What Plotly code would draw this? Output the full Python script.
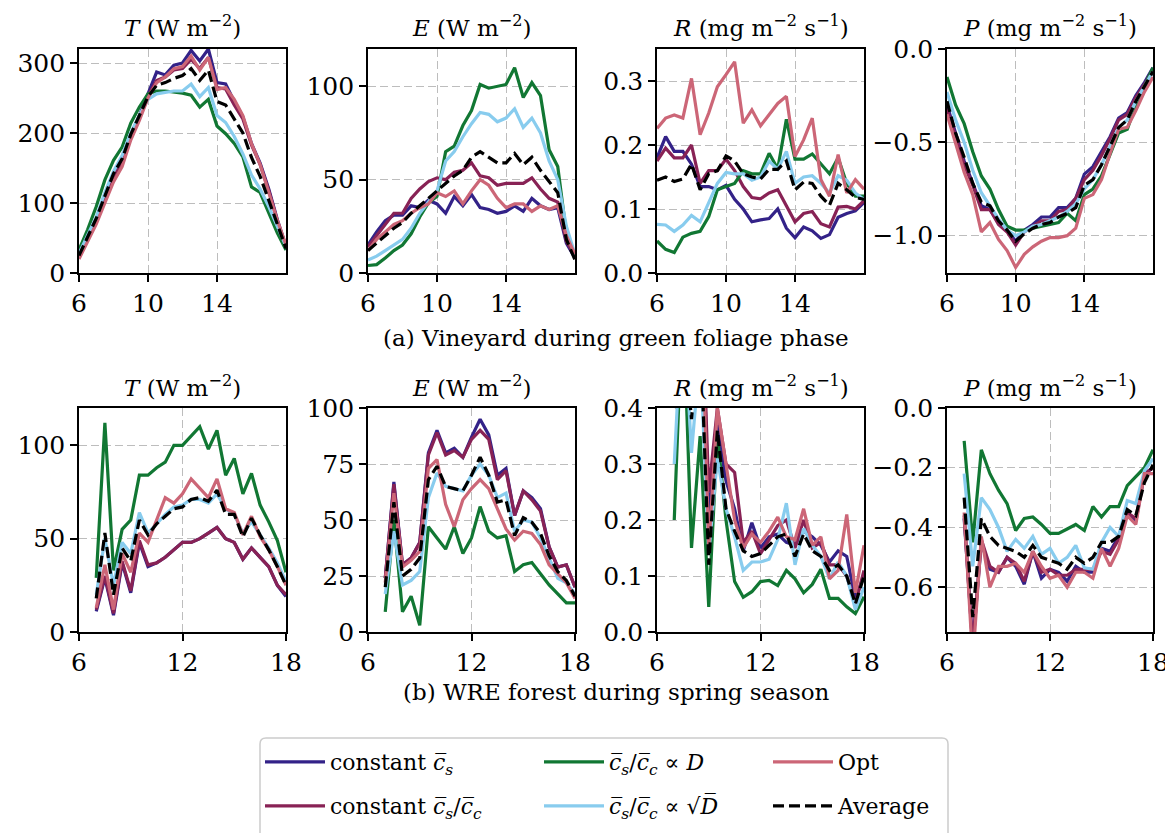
import plotly.graph_objects as go

W, H = 1173, 833
OFF = 8  # the page body margin shifts the figure by this many px

hours_a = [6, 6.5, 7, 7.5, 8, 8.5, 9, 9.5, 10, 10.5, 11, 11.5, 12,
           12.5, 13, 13.5, 14, 14.5, 15, 15.5, 16, 16.5, 17, 17.5, 18]
hours_b = [7, 7.5, 8, 8.5, 9, 9.5, 10, 10.5, 11, 11.5, 12,
           12.5, 13, 13.5, 14, 14.5, 15, 15.5, 16, 16.5, 17, 17.5, 18]

# (a) vineyard - T
T_a_cs = [22, 48, 75, 105, 140, 160, 195, 225, 255, 287, 283, 297, 300, 318, 303, 320, 272, 270, 245, 223, 185, 157, 120, 76, 38]
T_a_cscc = [22, 47, 73, 103, 137, 158, 193, 222, 253, 275, 280, 290, 292, 305, 292, 308, 265, 263, 240, 220, 183, 155, 118, 74, 37]
T_a_D = [33, 62, 95, 133, 161, 180, 214, 237, 256, 260, 260, 259, 257, 254, 237, 248, 210, 199, 185, 166, 123, 115, 85, 57, 33]
T_a_sqrtD = [28, 55, 80, 115, 145, 168, 200, 225, 248, 256, 258, 260, 260, 270, 252, 265, 225, 215, 195, 170, 140, 120, 95, 65, 38]
T_a_opt = [20, 45, 70, 100, 130, 152, 190, 218, 250, 272, 280, 292, 295, 310, 290, 308, 262, 265, 248, 225, 185, 155, 115, 75, 40]
T_a_avg = [25, 52, 78, 110, 142, 163, 198, 225, 252, 268, 272, 278, 282, 292, 275, 290, 245, 240, 220, 200, 165, 138, 104, 68, 35]

# (a) vineyard - E
E_a_cs = [15, 22, 28, 31, 31, 36, 35, 39, 37, 32, 41, 36, 42, 35, 34, 32, 33, 36, 33, 40, 36, 34, 35, 16, 8]
E_a_cscc = [14, 20, 26, 32, 32, 40, 45, 49, 51, 50, 54, 55, 59, 52, 51, 47, 48, 48, 48, 51, 45, 40, 38, 17, 9]
E_a_D = [4, 4.5, 8, 12, 15, 21, 30, 37.5, 41, 65, 68, 79, 87, 101, 99, 100, 101, 110, 94, 102, 95, 66, 57, 21, 9]
E_a_sqrtD = [7, 9, 12, 15, 18, 24, 32, 38, 44, 60, 65, 73, 80, 86, 85, 81, 83, 88, 78, 83, 75, 60, 50, 25, 10]
E_a_opt = [12, 18, 22, 26, 28, 32, 35, 37, 43, 41, 44, 37, 44, 50, 47, 40, 35, 37, 37, 33, 36, 34, 36, 20, 10]
E_a_avg = [12, 16, 20, 24, 27, 32, 36, 40, 44, 48, 52, 55, 62, 65, 62, 59, 59, 64, 58, 62, 55, 49, 43, 18, 7]

# (a) vineyard - R
R_a_cs = [0.18, 0.213, 0.19, 0.19, 0.17, 0.135, 0.135, 0.13, 0.137, 0.115, 0.1, 0.08, 0.083, 0.085, 0.1, 0.07, 0.055, 0.072, 0.066, 0.054, 0.06, 0.087, 0.093, 0.097, 0.11]
R_a_cscc = [0.175, 0.195, 0.18, 0.18, 0.2, 0.14, 0.16, 0.16, 0.178, 0.16, 0.135, 0.118, 0.116, 0.125, 0.13, 0.105, 0.08, 0.093, 0.096, 0.077, 0.072, 0.103, 0.104, 0.1, 0.113]
R_a_D = [0.05, 0.037, 0.032, 0.056, 0.062, 0.065, 0.088, 0.13, 0.135, 0.14, 0.16, 0.155, 0.155, 0.187, 0.163, 0.24, 0.178, 0.178, 0.186, 0.17, 0.155, 0.18, 0.14, 0.12, 0.12]
R_a_sqrtD = [0.076, 0.075, 0.065, 0.075, 0.09, 0.08, 0.11, 0.14, 0.157, 0.155, 0.155, 0.145, 0.15, 0.175, 0.162, 0.19, 0.14, 0.15, 0.152, 0.14, 0.125, 0.152, 0.145, 0.125, 0.115]
R_a_opt = [0.226, 0.242, 0.247, 0.242, 0.304, 0.216, 0.25, 0.291, 0.31, 0.33, 0.234, 0.255, 0.23, 0.247, 0.265, 0.276, 0.182, 0.208, 0.242, 0.146, 0.12, 0.185, 0.125, 0.146, 0.131]
R_a_avg = [0.145, 0.15, 0.143, 0.147, 0.17, 0.13, 0.155, 0.16, 0.183, 0.175, 0.155, 0.15, 0.147, 0.162, 0.162, 0.175, 0.13, 0.142, 0.14, 0.12, 0.106, 0.14, 0.13, 0.118, 0.115]

# (a) vineyard - P
P_a_cs = [-0.3, -0.45, -0.6, -0.72, -0.84, -0.86, -0.93, -0.97, -1.03, -0.97, -0.94, -0.9, -0.9, -0.85, -0.85, -0.8, -0.67, -0.63, -0.55, -0.47, -0.37, -0.34, -0.25, -0.18, -0.1]
P_a_cscc = [-0.32, -0.47, -0.62, -0.73, -0.86, -0.86, -0.94, -0.98, -1.05, -0.98, -0.95, -0.92, -0.92, -0.87, -0.86, -0.8, -0.7, -0.65, -0.57, -0.48, -0.38, -0.35, -0.26, -0.19, -0.11]
P_a_D = [-0.15, -0.3, -0.4, -0.55, -0.68, -0.75, -0.86, -0.95, -0.97, -0.97, -0.96, -0.95, -0.94, -0.93, -0.88, -0.92, -0.78, -0.75, -0.68, -0.56, -0.45, -0.43, -0.3, -0.2, -0.1]
P_a_sqrtD = [-0.23, -0.38, -0.5, -0.65, -0.77, -0.84, -0.91, -0.97, -1.0, -0.98, -0.95, -0.94, -0.92, -0.9, -0.87, -0.83, -0.75, -0.7, -0.62, -0.52, -0.42, -0.38, -0.28, -0.2, -0.12]
P_a_opt = [-0.35, -0.5, -0.66, -0.78, -0.98, -0.93, -1.02, -1.08, -1.17, -1.1, -1.06, -1.03, -1.01, -1.01, -1.0, -0.96, -0.8, -0.78, -0.7, -0.56, -0.43, -0.42, -0.33, -0.23, -0.15]
P_a_avg = [-0.28, -0.45, -0.58, -0.72, -0.82, -0.84, -0.92, -0.97, -1.03, -0.99, -0.96, -0.94, -0.93, -0.9, -0.88, -0.85, -0.73, -0.7, -0.62, -0.52, -0.42, -0.38, -0.28, -0.2, -0.12]

# (b) WRE forest - T
T_b_cs = [11, 29, 9, 37, 21, 48, 35, 37, 40, 44, 48, 48, 50, 53, 56, 50, 48, 39, 45, 40, 35, 25, 19]
T_b_cscc = [12, 30, 10, 38, 22, 49, 36, 37, 40, 44, 48, 48, 50, 53, 56, 50, 48, 39, 45, 40, 35, 25, 20]
T_b_D = [29, 112, 33, 55, 60, 84, 84, 88, 91, 100, 100, 105, 110, 98, 108, 84, 93, 74, 85, 68, 59, 49, 32]
T_b_sqrtD = [20, 50, 25, 48, 42, 64, 53, 58, 63, 67, 68, 71, 71, 69, 74, 66, 63, 53, 59, 52, 45, 37, 27]
T_b_opt = [13, 36, 12, 42, 32, 53, 48, 60, 72, 69, 74, 82, 77, 72, 82, 66, 64, 52, 62, 51, 44, 35, 25]
T_b_avg = [18, 53, 20, 45, 38, 60, 52, 58, 62, 66, 67, 71, 72, 70, 76, 63, 63, 51, 61, 52, 44, 35, 25]

# (b) WRE forest - E
E_b_cs = [24, 67, 30, 33, 40, 80, 90, 80, 82, 78, 87, 95, 88, 70, 73, 52, 63, 60, 55, 38, 29, 30, 20]
E_b_cscc = [24, 66, 30, 33, 40, 79, 89, 79, 81, 78, 86, 90, 86, 68, 72, 52, 63, 59, 54, 38, 29, 30, 20]
E_b_D = [9, 50, 9, 16, 3, 47, 42, 37, 47, 35, 42, 56, 45, 42, 43, 27, 30, 31, 26, 21, 17, 13, 13]
E_b_sqrtD = [17, 45, 21, 23, 27, 60, 71, 65, 64, 63, 70, 75, 70, 60, 62, 45, 50, 49, 42, 33, 24, 22, 17]
E_b_opt = [22, 62, 29, 32, 36, 73, 77, 57, 47, 59, 64, 68, 64, 55, 46, 41, 45, 44, 39, 30, 26, 22, 15]
E_b_avg = [20, 58, 25, 28, 33, 68, 74, 65, 64, 63, 70, 78, 70, 58, 59, 43, 51, 49, 44, 34, 27, 23, 16]

# (b) WRE forest - R
R_b_cs = [0.45, 0.7, 0.45, 0.7, 0.2, 0.37, 0.27, 0.22, 0.145, 0.195, 0.15, 0.17, 0.175, 0.16, 0.155, 0.18, 0.17, 0.155, 0.125, 0.145, 0.135, 0.06, 0.1]
R_b_cscc = [0.45, 0.7, 0.45, 0.7, 0.25, 0.4, 0.3, 0.285, 0.16, 0.18, 0.14, 0.165, 0.19, 0.2, 0.15, 0.2, 0.15, 0.16, 0.12, 0.12, 0.1, 0.05, 0.11]
R_b_D = [0.2, 0.6, 0.15, 0.35, 0.045, 0.35, 0.2, 0.09, 0.062, 0.072, 0.09, 0.092, 0.083, 0.11, 0.095, 0.07, 0.085, 0.112, 0.06, 0.06, 0.045, 0.033, 0.063]
R_b_sqrtD = [0.3, 0.6, 0.32, 0.5, 0.14, 0.31, 0.22, 0.17, 0.11, 0.125, 0.125, 0.13, 0.165, 0.23, 0.12, 0.185, 0.155, 0.135, 0.095, 0.125, 0.1, 0.04, 0.08]
R_b_opt = [0.45, 0.7, 0.45, 0.7, 0.15, 0.4, 0.3, 0.2, 0.15, 0.175, 0.16, 0.18, 0.205, 0.17, 0.165, 0.22, 0.155, 0.17, 0.095, 0.11, 0.21, 0.07, 0.155]
R_b_avg = [0.4, 0.55, 0.38, 0.55, 0.12, 0.36, 0.22, 0.18, 0.145, 0.135, 0.14, 0.155, 0.17, 0.175, 0.135, 0.175, 0.145, 0.135, 0.11, 0.12, 0.1, 0.05, 0.1]

# (b) WRE forest - P
P_b_cs = [-0.37, -0.8, -0.45, -0.54, -0.55, -0.5, -0.53, -0.59, -0.48, -0.57, -0.54, -0.55, -0.58, -0.53, -0.55, -0.55, -0.47, -0.48, -0.43, -0.35, -0.38, -0.22, -0.2]
P_b_cscc = [-0.36, -0.8, -0.44, -0.53, -0.55, -0.5, -0.52, -0.58, -0.48, -0.55, -0.54, -0.56, -0.56, -0.54, -0.54, -0.54, -0.48, -0.49, -0.44, -0.35, -0.37, -0.22, -0.2]
P_b_D = [-0.11, -0.45, -0.14, -0.22, -0.275, -0.32, -0.41, -0.37, -0.365, -0.39, -0.42, -0.42, -0.405, -0.39, -0.41, -0.33, -0.365, -0.33, -0.33, -0.26, -0.23, -0.2, -0.14]
P_b_sqrtD = [-0.22, -0.53, -0.3, -0.34, -0.4, -0.48, -0.44, -0.47, -0.43, -0.49, -0.47, -0.52, -0.5, -0.46, -0.535, -0.54, -0.45, -0.4, -0.43, -0.31, -0.32, -0.21, -0.17]
P_b_opt = [-0.35, -0.85, -0.43, -0.6, -0.53, -0.53, -0.52, -0.55, -0.48, -0.53, -0.57, -0.56, -0.6, -0.55, -0.55, -0.57, -0.47, -0.53, -0.47, -0.36, -0.39, -0.22, -0.22]
P_b_avg = [-0.3, -0.7, -0.37, -0.43, -0.46, -0.47, -0.48, -0.5, -0.46, -0.5, -0.51, -0.52, -0.54, -0.5, -0.52, -0.5, -0.45, -0.45, -0.43, -0.34, -0.36, -0.25, -0.19]

series_names = [
    'constant <i>c̅<sub>s</sub></i>',
    'constant <i>c̅<sub>s</sub></i>/<i>c̅<sub>c</sub></i>',
    '<i>c̅<sub>s</sub></i>/<i>c̅<sub>c</sub></i> ∝ <i>D</i>',
    '<i>c̅<sub>s</sub></i>/<i>c̅<sub>c</sub></i> ∝ √<i>D̅</i>',
    'Opt',
    'Average',
]
colors = ['#332288', '#882255', '#117733', '#88CCEE', '#CC6677', 'black']

panel_titles = ['<i>T</i> (W m<sup>−2</sup>)', '<i>E</i> (W m<sup>−2</sup>)',
                '<i>R</i> (mg m<sup>−2</sup> s<sup>−1</sup>)', '<i>P</i> (mg m<sup>−2</sup> s<sup>−1</sup>)']

panels = [
    (hours_a, [T_a_cs, T_a_cscc, T_a_D, T_a_sqrtD, T_a_opt, T_a_avg], [0, 320], [0, 100, 200, 300], None),
    (hours_a, [E_a_cs, E_a_cscc, E_a_D, E_a_sqrtD, E_a_opt, E_a_avg], [0, 120], [0, 50, 100], None),
    (hours_a, [R_a_cs, R_a_cscc, R_a_D, R_a_sqrtD, R_a_opt, R_a_avg], [0, 0.35], [0, 0.1, 0.2, 0.3], '.1f'),
    (hours_a, [P_a_cs, P_a_cscc, P_a_D, P_a_sqrtD, P_a_opt, P_a_avg], [-1.2, 0], [-1.0, -0.5, 0], '.1f'),
    (hours_b, [T_b_cs, T_b_cscc, T_b_D, T_b_sqrtD, T_b_opt, T_b_avg], [0, 120], [0, 50, 100], None),
    (hours_b, [E_b_cs, E_b_cscc, E_b_D, E_b_sqrtD, E_b_opt, E_b_avg], [0, 100], [0, 25, 50, 75, 100], None),
    (hours_b, [R_b_cs, R_b_cscc, R_b_D, R_b_sqrtD, R_b_opt, R_b_avg], [0, 0.4], [0, 0.1, 0.2, 0.3, 0.4], '.1f'),
    (hours_b, [P_b_cs, P_b_cscc, P_b_D, P_b_sqrtD, P_b_opt, P_b_avg], [-0.75, 0], [-0.6, -0.4, -0.2, 0], '.1f'),
]

col_px = [(79, 286), (368, 575), (657, 864), (947, 1153)]
row_px = [(49, 273), (408, 632)]
xticks_rows = [[6, 10, 14], [6, 12, 18]]


def px(p):
    return (p - OFF) / W


def py(p):
    return 1 - (p - OFF) / H


fig = go.Figure()

axis_common = dict(showline=True, mirror=True, linecolor='black', linewidth=1.8,
                   ticks='outside', ticklen=7, tickwidth=1.8, tickcolor='black',
                   showgrid=True, gridcolor='#bdbdbd', griddash='8px,4px', gridwidth=1.3,
                   zeroline=False, automargin=False,
                   tickfont=dict(family='DejaVu Serif', size=25, color='black'))

legend_keys = ['legend', 'legend2', 'legend3', 'legend4', 'legend5', 'legend6']

for k, (xs, ys_list, yrange, yticks, yfmt) in enumerate(panels):
    row, col = divmod(k, 4)
    n = k + 1
    xname = 'x' if n == 1 else f'x{n}'
    yname = 'y' if n == 1 else f'y{n}'
    for s, ys in enumerate(ys_list):
        fig.add_trace(go.Scatter(
            x=xs, y=ys, mode='lines', name=series_names[s],
            line=dict(color=colors[s], width=3.2,
                      dash='11px,5px' if s == 5 else 'solid'),
            showlegend=(k == 0), legend=legend_keys[s],
            xaxis=xname, yaxis=yname))
    x0, x1 = col_px[col]
    y0, y1 = row_px[row]
    fig.layout[f'xaxis{n}' if n > 1 else 'xaxis'] = dict(
        axis_common, domain=[px(x0), px(x1)], range=[6, 18],
        tickvals=xticks_rows[row], anchor=yname)
    fig.layout[f'yaxis{n}' if n > 1 else 'yaxis'] = dict(
        axis_common, domain=[py(y1), py(y0)], range=yrange,
        tickvals=yticks, tickformat=yfmt, anchor=xname)

annotations = []
title_y = [26, 386]
for row in range(2):
    for col in range(4):
        x0, x1 = col_px[col]
        annotations.append(dict(
            text=panel_titles[col], x=px((x0 + x1) / 2), y=py(title_y[row]),
            xref='paper', yref='paper', showarrow=False, xanchor='center', yanchor='middle',
            font=dict(family='DejaVu Serif', size=23, color='black')))

captions = ['(a) Vineyard during green foliage phase', '(b) WRE forest during spring season']
caption_y = [338, 692]
for cap, cy in zip(captions, caption_y):
    annotations.append(dict(
        text=cap, x=px(616), y=py(cy), xref='paper', yref='paper', showarrow=False,
        xanchor='center', yanchor='middle',
        font=dict(family='DejaVu Serif', size=23, color='black')))

legend_pos = [(260, 762), (260, 806), (539, 762), (539, 806), (768, 762), (768, 806)]
legends = {}
for key, (lx, ly) in zip(legend_keys, legend_pos):
    legends[key] = dict(x=px(lx), y=py(ly), xanchor='left', yanchor='middle',
                        bgcolor='rgba(0,0,0,0)', borderwidth=0, itemwidth=60,
                        font=dict(family='DejaVu Serif', size=22, color='black'))

# rounded legend frame (runs off the bottom edge, as in the original)
bx0, bx1, by0, by1, r = 260, 948, 738, 850, 6
frame_path = (f'M {px(bx0 + r)},{py(by0)} L {px(bx1 - r)},{py(by0)} '
              f'Q {px(bx1)},{py(by0)} {px(bx1)},{py(by0 + r)} L {px(bx1)},{py(by1)} '
              f'L {px(bx0)},{py(by1)} L {px(bx0)},{py(by0 + r)} '
              f'Q {px(bx0)},{py(by0)} {px(bx0 + r)},{py(by0)}')

fig.update_layout(
    width=W, height=H,
    margin=dict(l=0, r=0, t=0, b=0, autoexpand=False),
    plot_bgcolor='white', paper_bgcolor='white',
    annotations=annotations,
    shapes=[dict(type='path', xref='paper', yref='paper', path=frame_path,
                 line=dict(color='#cccccc', width=1.5))],
    **legends,
)

fig.write_html("out.html")
